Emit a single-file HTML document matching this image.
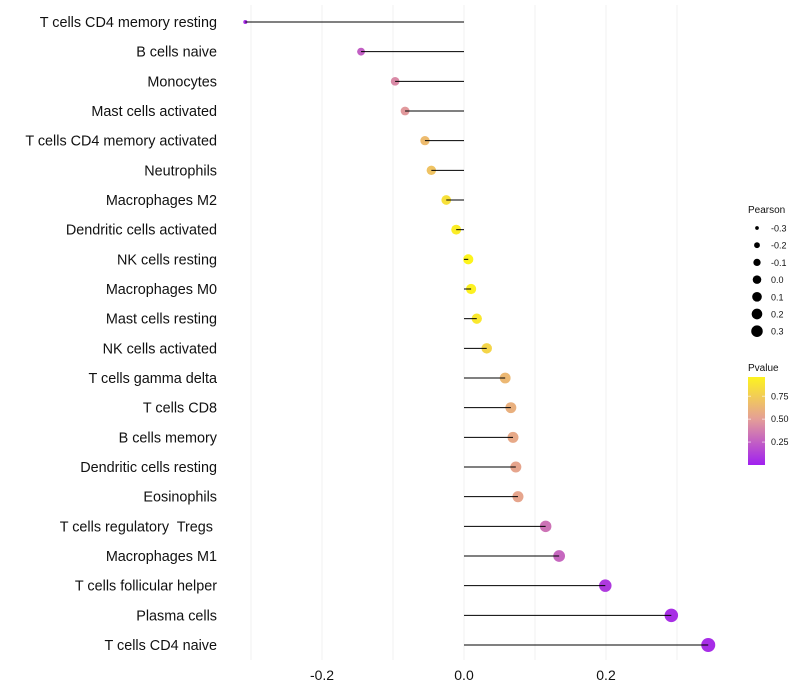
<!DOCTYPE html>
<html><head><meta charset="utf-8"><style>
body{margin:0;background:#fff;font-family:"Liberation Sans",sans-serif}
svg{display:block}
text{white-space:pre}
</style></head><body>
<svg id="chart" width="800" height="700"></svg>
<script>
const categories=["T cells CD4 memory resting","B cells naive","Monocytes","Mast cells activated","T cells CD4 memory activated","Neutrophils","Macrophages M2","Dendritic cells activated","NK cells resting","Macrophages M0","Mast cells resting","NK cells activated","T cells gamma delta","T cells CD8","B cells memory","Dendritic cells resting","Eosinophils","T cells regulatory  Tregs ","Macrophages M1","T cells follicular helper","Plasma cells","T cells CD4 naive"];
const pearson=[-0.308,-0.145,-0.097,-0.083,-0.055,-0.046,-0.025,-0.011,0.006,0.010,0.018,0.032,0.058,0.066,0.069,0.073,0.076,0.115,0.134,0.199,0.292,0.344];
const pvalue=[0.05,0.25,0.42,0.48,0.66,0.70,0.86,0.93,0.97,0.95,0.90,0.80,0.64,0.60,0.56,0.54,0.54,0.33,0.28,0.10,0.06,0.05];
const xTicks=[-0.2,0.0,0.2];
const xGrid=[-0.3,-0.2,-0.1,0,0.1,0.2,0.3];
const sizeLegend=[-0.3,-0.2,-0.1,0.0,0.1,0.2,0.3];
const pTicks=[0.25,0.50,0.75];

const NS="http://www.w3.org/2000/svg";
const svg=document.getElementById('chart');
function mk(t,a,p){const e=document.createElementNS(NS,t);for(const k in a)e.setAttribute(k,a[k]);(p||svg).appendChild(e);return e;}
const x=v=>464+v*710;
const y=i=>22+i*(623/21);
const r=v=>Math.sqrt(4+45*Math.max(0,(v+0.31))/0.654);
function lerp(a,b,t){return a.map((c,i)=>Math.round(c+(b[i]-c)*t));}
function col(p){const A=[160,32,240],M=[228,158,152],B=[255,250,20];let c=p<0.5?lerp(A,M,p/0.5):lerp(M,B,(p-0.5)/0.5);return `rgb(${c[0]},${c[1]},${c[2]})`;}

xGrid.forEach(g=>{const l=mk('line',{x1:x(g),x2:x(g),y1:5,y2:660,stroke:'#f1f1f1','stroke-width':1});
});
xTicks.forEach(t=>{const e=mk('text',{x:x(t),y:680,'text-anchor':'middle','font-size':14,fill:'#111'});e.textContent=t.toFixed(1);
});
categories.forEach((c,i)=>{
 const e=mk('text',{x:217,y:y(i)+5,'text-anchor':'end','font-size':14.4,fill:'#111'});e.textContent=c;
 
 const pt=mk('circle',{cx:x(pearson[i]),cy:y(i),r:r(pearson[i]),fill:col(pvalue[i])});
 
 const l=mk('line',{x1:x(0),x2:x(pearson[i]),y1:y(i),y2:y(i),stroke:'#000','stroke-width':1});
 
});
let t=mk('text',{x:748,y:213,'font-size':10,fill:'#111'});t.textContent='Pearson';

sizeLegend.forEach((v,i)=>{const yy=228+i*17.2;
 const c=mk('circle',{cx:757,cy:yy,r:r(v)*0.85,fill:'#000'});
 const tx=mk('text',{x:771,y:yy+3.5,'font-size':9,fill:'#111'});tx.textContent=v.toFixed(1);
 });
t=mk('text',{x:748,y:371,'font-size':10,fill:'#111'});t.textContent='Pvalue';

const defs=mk('defs',{});const g=mk('linearGradient',{id:'pg',x1:0,y1:1,x2:0,y2:0},defs);
[0,0.25,0.5,0.75,0.96].forEach(p=>mk('stop',{offset:p/0.96,'stop-color':col(p)},g));
const bar=mk('rect',{x:748,y:377,width:17,height:88,fill:'url(#pg)'});

const py=p=>465-p*(88/0.96);
pTicks.forEach(p=>{mk('line',{x1:748,x2:751,y1:py(p),y2:py(p),stroke:'#fff','stroke-opacity':0.6});mk('line',{x1:762,x2:765,y1:py(p),y2:py(p),stroke:'#fff','stroke-opacity':0.6});
 const tx=mk('text',{x:771,y:py(p)+3,'font-size':9,fill:'#111'});tx.textContent=p.toFixed(2);
 });
</script>
</body></html>
